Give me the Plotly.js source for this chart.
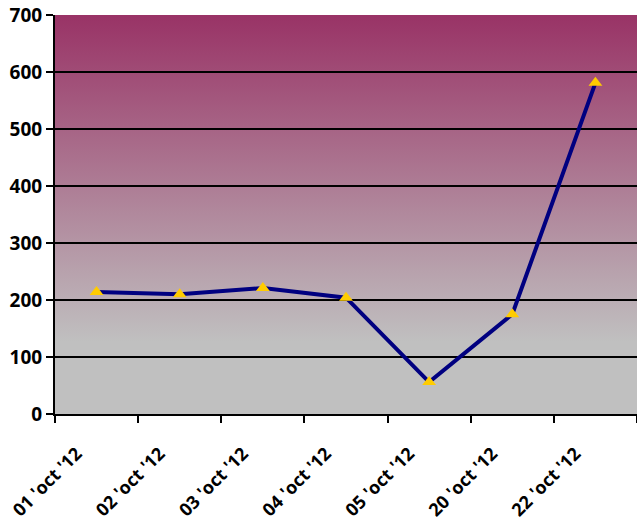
<!DOCTYPE html>
<html><head><meta charset="utf-8">
<script src="https://cdn.plot.ly/plotly-3.0.1.min.js"></script>
<style>html,body{margin:0;padding:0;background:#fff}#chart{width:637px;height:522px}</style>
</head><body><div id="chart"></div>
<script>
const categories = ["01 'oct '12","02 'oct '12","03 'oct '12","04 'oct '12","05 'oct '12","20 'oct '12","22 'oct '12"];
const values = [214, 210, 221, 204, 56, 175, 581];
const yTicks = [0,100,200,300,400,500,600,700];

const grad = 'data:image/svg+xml;utf8,' + encodeURIComponent(
 '<svg xmlns="http://www.w3.org/2000/svg" width="100" height="100" preserveAspectRatio="none">' +
 '<defs><linearGradient id="g" x1="0" y1="0" x2="0" y2="1">' +
 '<stop offset="0" stop-color="#993366"/><stop offset="0.82" stop-color="#c0c0c0"/><stop offset="1" stop-color="#c0c0c0"/>' +
 '</linearGradient></defs><rect width="100" height="100" fill="url(#g)"/></svg>');

const trace = {
  x: categories, y: values, type: 'scatter', mode: 'lines+markers',
  line: {color: '#000080', width: 4},
  marker: {symbol: 'triangle-up', size: 12, color: '#FFCC00', line: {width: 0}},
  hoverinfo: 'skip'
};
const font = {family: '"Open Sans", "DejaVu Sans", sans-serif', color: '#000'};
const layout = {
  width: 637, height: 522,
  margin: {l: 55, r: 0, t: 15, b: 108},
  paper_bgcolor: '#fff', plot_bgcolor: 'rgba(0,0,0,0)',
  showlegend: false,
  images: [{source: grad, xref: 'paper', yref: 'paper', x: 0, y: 1, sizex: 1, sizey: 1,
    sizing: 'stretch', xanchor: 'left', yanchor: 'top', layer: 'below'}],
  xaxis: {
    type: 'category', range: [-0.5, 6.5], tickson: 'boundaries',
    ticks: 'outside', ticklen: 7, tickwidth: 2, tickcolor: '#000',
    showline: true, linecolor: '#000', linewidth: 2, showgrid: false,
    tickangle: -45, tickfont: Object.assign({size: 18, weight: 'bold'}, font),
    ticklabelstandoff: 20, ticklabelshift: -20,
    fixedrange: true
  },
  yaxis: {
    range: [0, 700], tickvals: yTicks, ticktext: yTicks.map(String),
    ticks: 'outside', ticklen: 7, tickwidth: 2, tickcolor: '#000',
    showline: true, linecolor: '#000', linewidth: 2,
    showgrid: true, gridcolor: '#000', gridwidth: 2, zeroline: false,
    tickfont: Object.assign({size: 19, weight: 'bold'}, font),
    fixedrange: true
  }
};
Plotly.newPlot('chart', [trace], layout, {displayModeBar: false, staticPlot: true});
</script></body></html>
